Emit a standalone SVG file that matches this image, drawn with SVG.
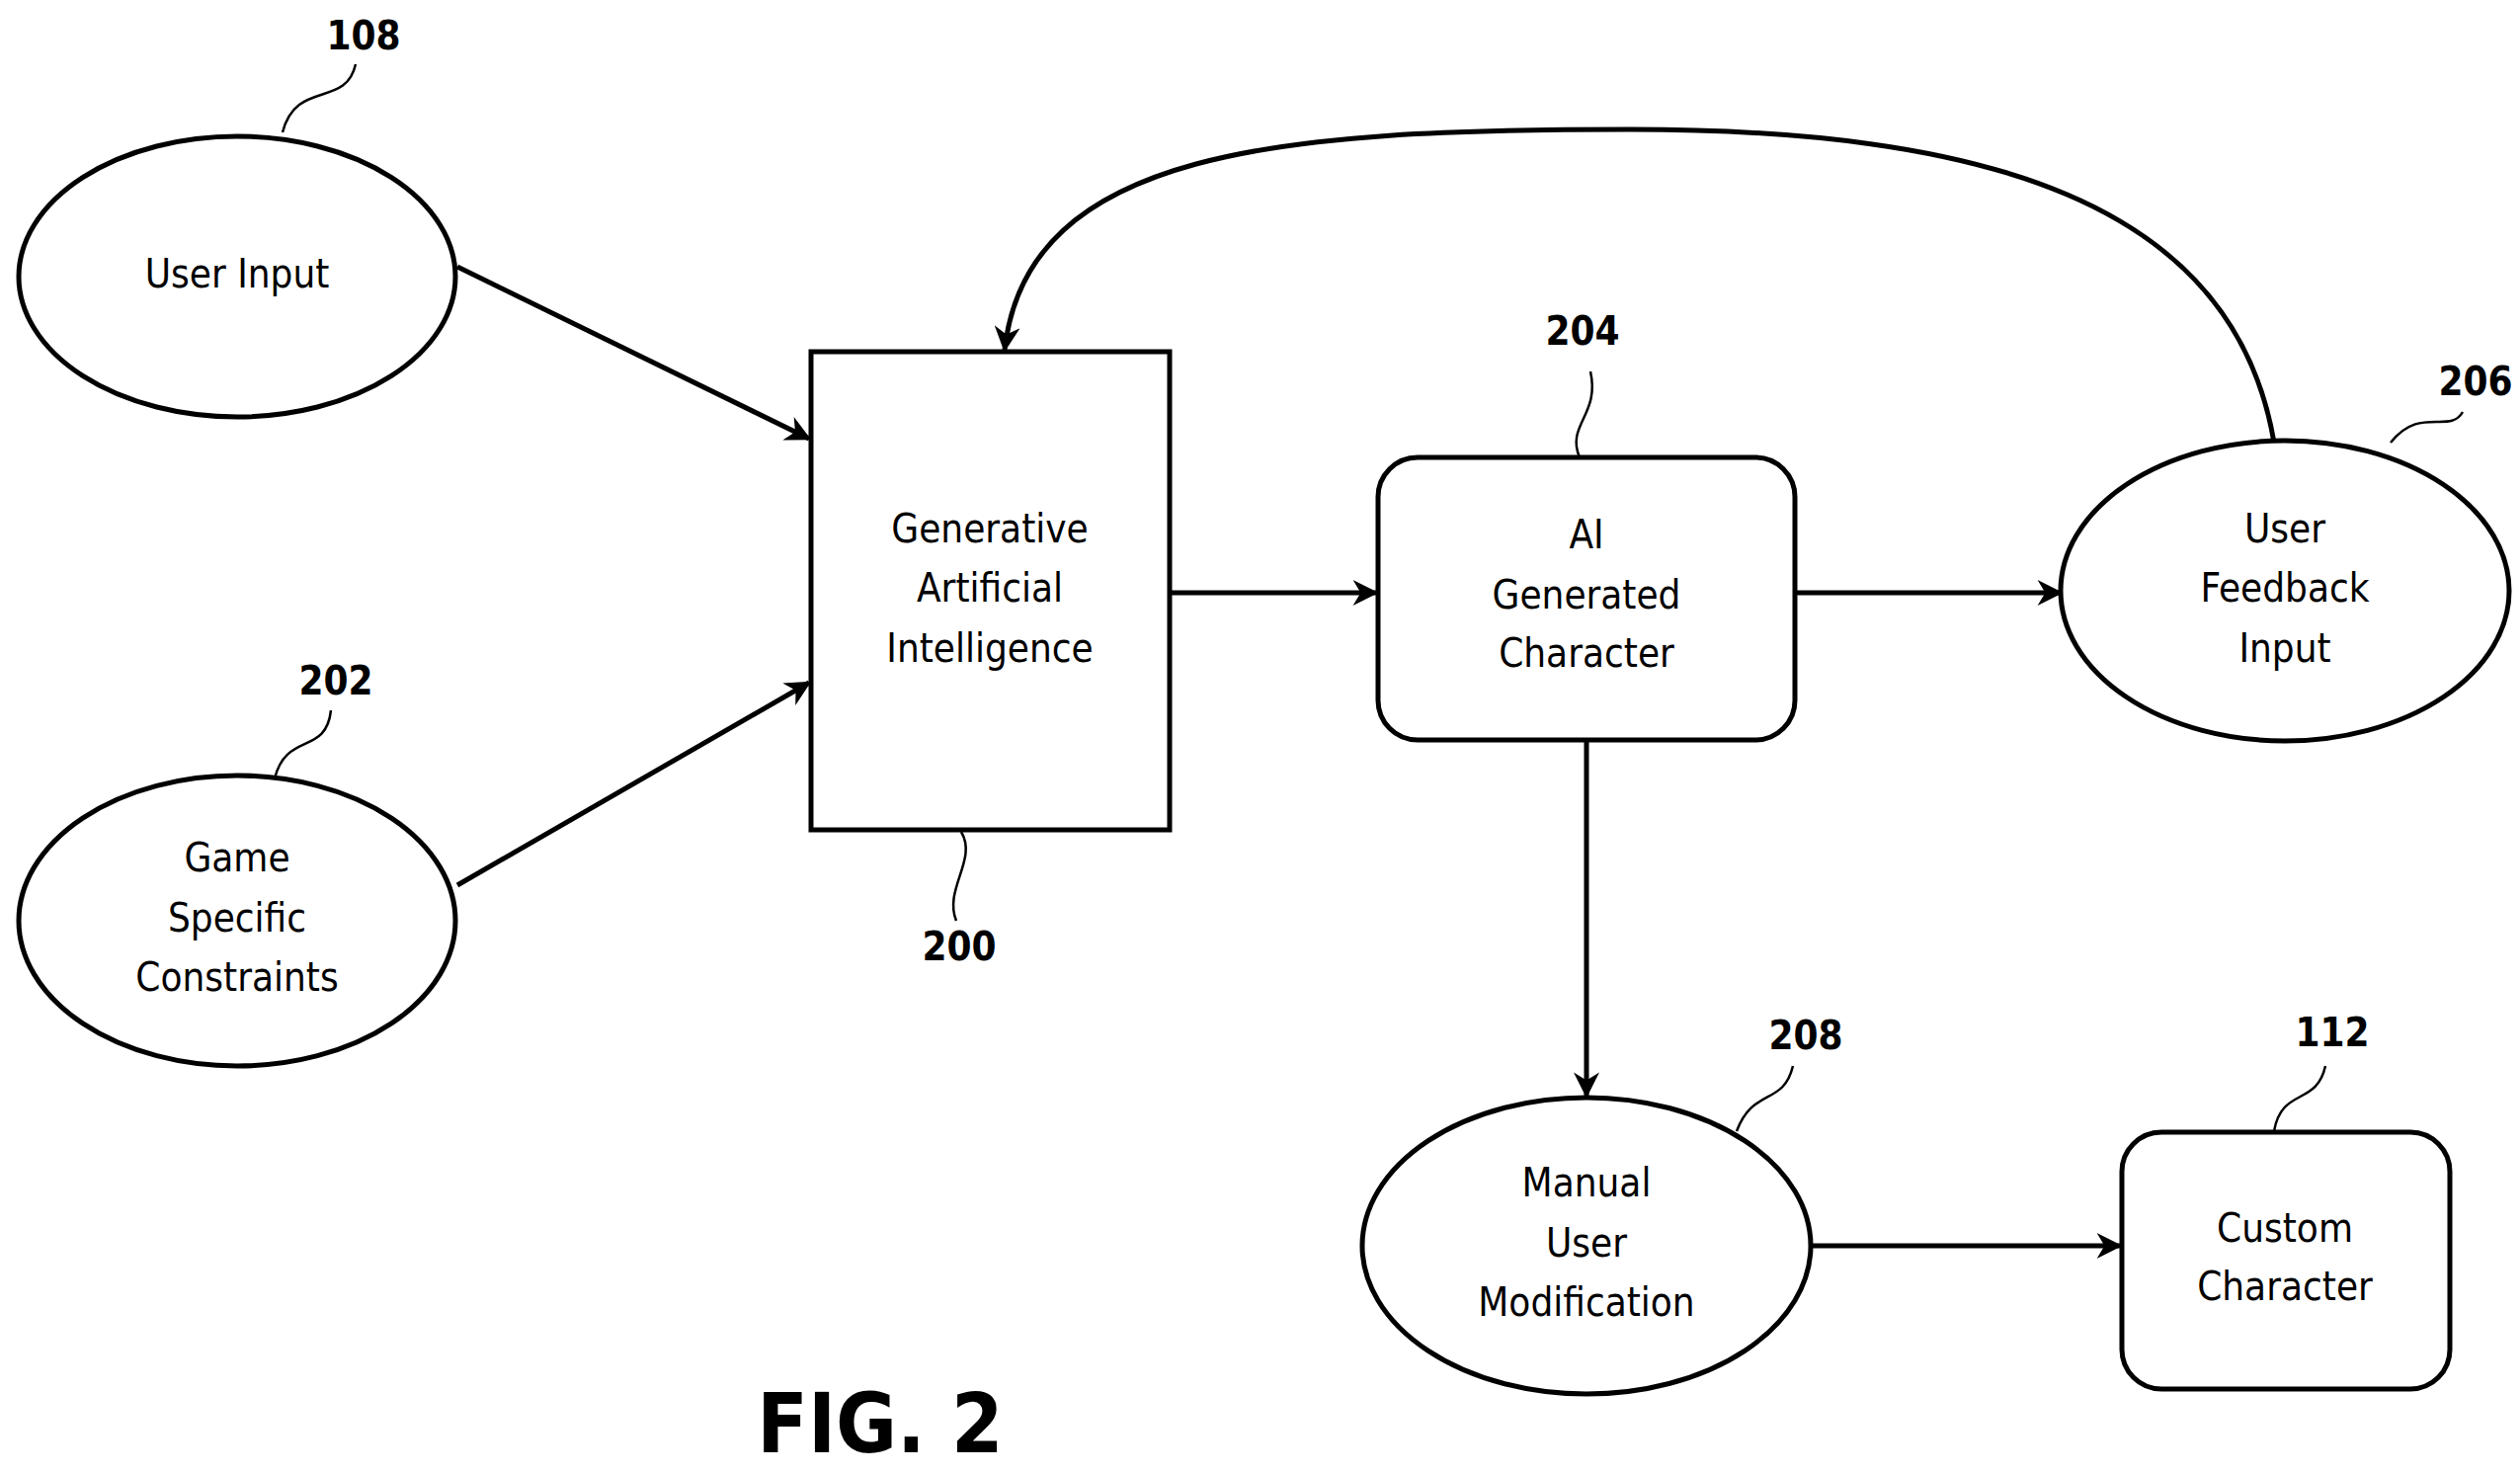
<svg xmlns="http://www.w3.org/2000/svg" width="2551" height="1491" viewBox="0 0 2551 1491">
<style>
.s{fill:#fff;stroke:#000;stroke-width:5}
.t{font-family:"DejaVu Sans Condensed","Liberation Sans",sans-serif;font-size:40px;text-anchor:middle;dominant-baseline:middle}
.l{font-family:"DejaVu Sans Condensed","Liberation Sans",sans-serif;font-weight:bold;font-size:40px;text-anchor:middle;dominant-baseline:middle}
.c{fill:none;stroke:#000;stroke-width:5}
.q{fill:none;stroke:#000;stroke-width:2.5}
</style>
<defs><marker id="a" markerWidth="10" markerHeight="10" refX="9" refY="5" orient="auto" markerUnits="userSpaceOnUse" viewBox="0 0 10 10"><path d="M0,0 L10,5 L0,10 L3,5Z"/></marker>
<marker id="b" viewBox="0 0 10 10" refX="9" refY="5" markerWidth="30" markerHeight="26" orient="auto" markerUnits="userSpaceOnUse"><path d="M0,0 L10,5 L0,10 L3,5Z"/></marker></defs>
<rect width="2551" height="1491" fill="#fff"/>
<g id="connectors">
<path class="c" d="M463,270 L819,444" marker-end="url(#b)"/>
<path class="c" d="M463,896 L819,691" marker-end="url(#b)"/>
<path class="c" d="M1184,600 L1393,600" marker-end="url(#b)"/>
<path class="c" d="M1817,600 L2086,600" marker-end="url(#b)"/>
<path class="c" d="M1606,749 L1606,1109" marker-end="url(#b)"/>
<path class="c" d="M1833,1261 L2146,1261" marker-end="url(#b)"/>
<path class="c" d="M2302,448 C2260,200 2000,131 1650,131 C1300,131 1040,150 1017,354" marker-end="url(#b)"/>
</g>
<g id="n108"><ellipse class="s" cx="240" cy="280" rx="221" ry="142"/><text class="t" x="240" y="280">User Input</text>
<path class="q" d="M286,134 C300,80 350,110 360,65"/><text class="l" x="368" y="39">108</text></g>
<g id="n202"><ellipse class="s" cx="240" cy="932" rx="221" ry="147"/><text class="t" x="240" y="871">Game</text><text class="t" x="240" y="932">Specific</text><text class="t" x="240" y="992">Constraints</text>
<path class="q" d="M278,788 C290,740 330,765 335,719"/><text class="l" x="340" y="692">202</text></g>
<g id="n200"><rect class="s" x="821" y="356" width="363" height="484"/><text class="t" x="1002" y="538">Generative</text><text class="t" x="1002" y="598">Artificial</text><text class="t" x="1002" y="659">Intelligence</text>
<path class="q" d="M973,842 C990,870 955,900 968,932"/><text class="l" x="971" y="961">200</text></g>
<g id="n204"><rect class="s" x="1395" y="463" width="422" height="286" rx="40"/><text class="t" x="1606" y="544">AI</text><text class="t" x="1606" y="605">Generated</text><text class="t" x="1606" y="664">Character</text>
<path class="q" d="M1610,376 C1620,420 1585,430 1599,463"/><text class="l" x="1602" y="338">204</text></g>
<g id="n206"><ellipse class="s" cx="2313" cy="598" rx="227" ry="152"/><text class="t" x="2313" y="538">User</text><text class="t" x="2313" y="598">Feedback</text><text class="t" x="2313" y="659">Input</text>
<path class="q" d="M2420,448 C2450,410 2480,440 2493,417"/><text class="l" x="2506" y="389">206</text></g>
<g id="n208"><ellipse class="s" cx="1606" cy="1261" rx="227" ry="150"/><text class="t" x="1606" y="1200">Manual</text><text class="t" x="1606" y="1261">User</text><text class="t" x="1606" y="1321">Modification</text>
<path class="q" d="M1758,1145 C1775,1100 1805,1120 1815,1079"/><text class="l" x="1828" y="1051">208</text></g>
<g id="n112"><rect class="s" x="2148" y="1146" width="332" height="260" rx="40"/><text class="t" x="2313" y="1246">Custom</text><text class="t" x="2313" y="1305">Character</text>
<path class="q" d="M2302,1145 C2310,1100 2345,1120 2354,1079"/><text class="l" x="2361" y="1048">112</text></g>
<text font-family="DejaVu Sans Condensed,Liberation Sans,sans-serif" font-weight="bold" font-size="84" text-anchor="middle" x="891" y="1470">FIG. 2</text>
</svg>
